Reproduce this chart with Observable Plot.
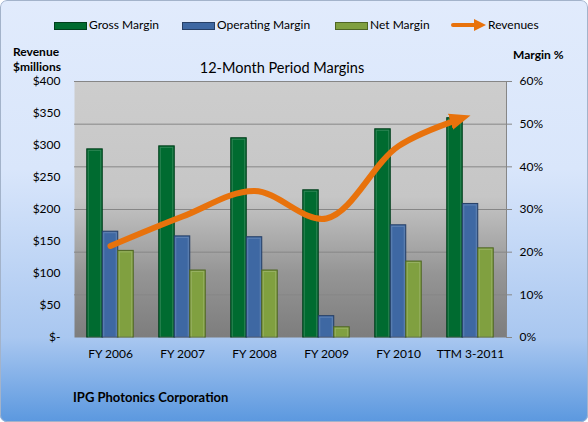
<!DOCTYPE html>
<html><head><meta charset="utf-8">
<script src="https://cdn.jsdelivr.net/npm/d3@7"></script>
<script src="https://cdn.jsdelivr.net/npm/@observablehq/plot@0.6"></script>
<style>
html,body{margin:0;padding:0;background:#fff;}
#chart{position:relative;width:588px;height:422px;overflow:hidden;border-radius:7px;
background:linear-gradient(to bottom,#e1ebfc 0%,#d9e6fb 40%,#a9c7f0 80%,#5b98df 100%);
font-family:Lato,"Open Sans",sans-serif;color:#000;}
#border{position:absolute;left:0;top:0;width:586px;height:420px;border:1px solid #a3b3ca;border-radius:7px;pointer-events:none;}
.lbl{position:absolute;white-space:nowrap;line-height:16px;}
.sw{position:absolute;height:6px;width:31px;}
#plot{position:absolute;left:0;top:0;}
</style></head><body>
<div id="chart"><div id="plot"></div><div id="border"></div></div>
<script>
const categories = ["FY 2006","FY 2007","FY 2008","FY 2009","FY 2010","TTM 3-2011"];
const grossMargin = [44.1, 44.8, 46.7, 34.5, 48.8, 51.4];
const operatingMargin = [24.8, 23.7, 23.5, 5.0, 26.3, 31.3];
const netMargin = [20.3, 15.7, 15.7, 2.4, 17.8, 20.9];
const revenues = [143, 189, 229, 186, 299, 347];
const revenueTicks = [0, 50, 100, 150, 200, 250, 300, 350, 400];
const marginTicks = [0, 10, 20, 30, 40, 50, 60];
const seriesNames = ["Gross Margin", "Operating Margin", "Net Margin"];
const seriesKeys = ["gross", "op", "net"];
const seriesColors = ["#006b30", "#3e68a3", "#80a040"];
const seriesStrokes = ["#003e1b", "#263f66", "#4f6624"];
const revColor = "#e8720c";

const rows = categories.map((c, i) => ({category: c, gross: grossMargin[i], op: operatingMargin[i], net: netMargin[i], rev: revenues[i]}));
const sc = 60 / 400; // revenue -> margin-axis units

const W = 588, H = 422, mL = 74, mR = 82, mT = 81, mB = 85;
const band = (W - mL - mR) / categories.length;
const barW = 15.5, off = (band - 3 * barW) / 2;

const bars = seriesKeys.map((k, j) => Plot.barY(rows, {
  x: "category", y: k, fill: seriesColors[j], stroke: seriesStrokes[j], strokeWidth: 1,
  insetLeft: off + j * barW, insetRight: band - off - (j + 1) * barW
}));
const highlights = seriesKeys.map((k, j) => Plot.barY(rows, {
  x: "category", y: k, fill: "none", stroke: "#ffffff", strokeOpacity: 0.18, strokeWidth: 1,
  insetLeft: off + j * barW + 1.5, insetRight: band - off - (j + 1) * barW + 1.5, insetTop: 1.5
}));

const plot = Plot.plot({
  width: W, height: H,
  marginLeft: mL, marginRight: mR, marginTop: mT, marginBottom: mB,
  style: {fontFamily: "Lato, 'Open Sans', sans-serif", fontSize: "12px", color: "#000", background: "transparent", overflow: "visible"},
  x: {domain: categories, padding: 0},
  y: {domain: [0, 60]},
  marks: [
    Plot.frame({fill: "url(#plotbg)", stroke: "none"}),
    Plot.gridY({ticks: marginTicks.slice(1), stroke: "#868686", strokeOpacity: 1}),
    ...bars,
    ...highlights,
    Plot.line(rows, {x: "category", y: d => d.rev * sc, curve: "catmull-rom", stroke: revColor, strokeWidth: 6, className: "revline"}),
    Plot.frame({anchor: "right", stroke: "#868686"}),
    Plot.axisY({anchor: "right", ticks: marginTicks, tickSize: 5, tickPadding: 8, stroke: "#868686", tickFormat: d => d + "%", label: null, fill: "#000"}),
    Plot.axisY({anchor: "left", ticks: revenueTicks.map(v => v * sc), tickSize: 0, tickPadding: 14, label: null, fill: "#000",
      tickFormat: d => { const v = Math.round(d / sc); return v === 0 ? "$-" : "$" + v; }}),
    Plot.axisX({tickSize: 0, tickPadding: 12, label: null, fill: "#000"})
  ]
});

// gradient + arrowhead definitions
const ns = "http://www.w3.org/2000/svg";
const defs = document.createElementNS(ns, "defs");
defs.innerHTML = `
<linearGradient id="plotbg" x1="0" y1="0" x2="0" y2="1">
  <stop offset="0" stop-color="#cdcdcd"/>
  <stop offset="0.45" stop-color="#c6c6c6"/>
  <stop offset="0.75" stop-color="#959595"/>
  <stop offset="1" stop-color="#7d7d7d"/>
</linearGradient>
<marker id="revArrow" viewBox="0 -5 10 10" refX="10" refY="0" markerWidth="3.5" markerHeight="3.5" markerUnits="strokeWidth" orient="auto">
  <path d="M0,-4L10,0L0,4Z" fill="${revColor}"/>
</marker>`;
plot.insertBefore(defs, plot.firstChild);
document.getElementById("plot").appendChild(plot);
const lp = plot.querySelector(".revline path");
if (lp) {
  const L = lp.getTotalLength();
  lp.setAttribute("stroke-dasharray", `${L - 12} ${L + 20}`);
  lp.setAttribute("stroke-linecap", "round");
  lp.setAttribute("marker-end", "url(#revArrow)");
}

// legend and labels
const chart = document.getElementById("chart");
function lbl(text, left, cy, css) {
  const d = document.createElement("div");
  d.className = "lbl"; d.textContent = text;
  d.style.left = left + "px"; d.style.top = (cy - 8) + "px";
  Object.assign(d.style, css || {});
  chart.appendChild(d); return d;
}
const legendX = [[54, 89], [182, 217], [335, 370]];
seriesNames.forEach((n, j) => {
  const s = document.createElement("div");
  s.className = "sw";
  s.style.left = legendX[j][0] + "px"; s.style.top = "22px";
  s.style.background = seriesColors[j]; s.style.border = "1px solid " + seriesStrokes[j];
  chart.appendChild(s);
  lbl(n, legendX[j][1], 25, {fontSize: "12px"});
});
const ar = document.createElementNS(ns, "svg");
ar.setAttribute("width", 40); ar.setAttribute("height", 16);
ar.style.position = "absolute"; ar.style.left = "450px"; ar.style.top = "17px";
ar.innerHTML = `<line x1="3" y1="8" x2="27" y2="8" stroke="${revColor}" stroke-width="4" stroke-linecap="round"/><path d="M24,2L36,8L24,14Z" fill="${revColor}"/>`;
chart.appendChild(ar);
lbl("Revenues", 488, 25, {fontSize: "12px"});

lbl("Revenue", 13, 52, {fontSize: "12px", fontWeight: "bold"});
lbl("$millions", 13, 67, {fontSize: "12px", fontWeight: "bold"});
lbl("Margin %", 513, 55, {fontSize: "12px", fontWeight: "bold"});
const t = lbl("12-Month Period Margins", 0, 68, {fontSize: "14.5px", width: "564px", textAlign: "center"});
lbl("IPG Photonics Corporation", 73, 397, {fontSize: "13px", fontWeight: "bold"});
</script>
</body></html>
